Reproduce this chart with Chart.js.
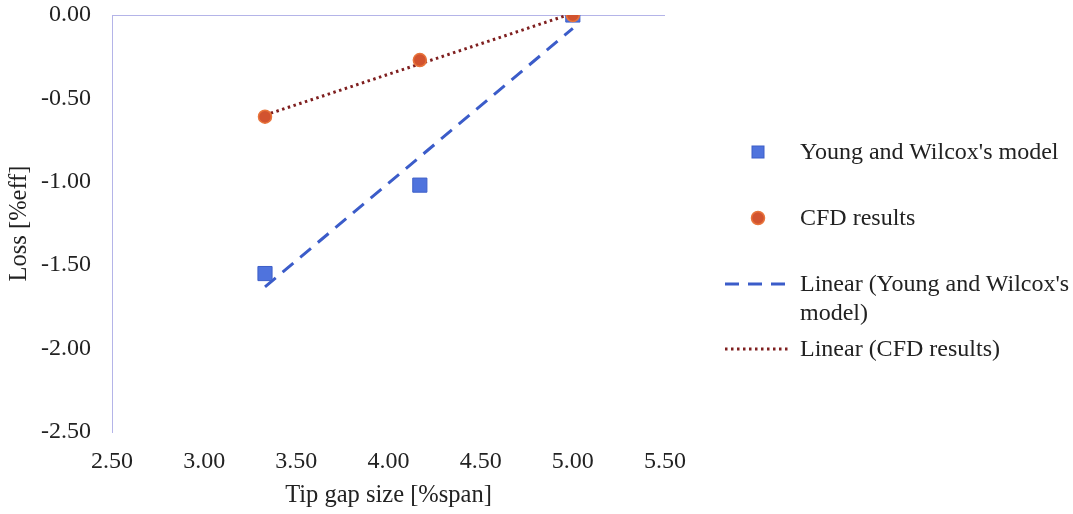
<!DOCTYPE html>
<html>
<head>
<meta charset="utf-8">
<script src="https://cdn.jsdelivr.net/npm/chart.js@4.4.0/dist/chart.umd.min.js"></script>
<style>
html, body { margin: 0; padding: 0; background: #fff; }
#wrap { position: relative; width: 1073px; height: 514px; }
#legend { position: absolute; left: 0; top: 0; width: 1073px; height: 514px; pointer-events: none;
  font-family: "Liberation Serif", "Times New Roman", serif; font-size: 24px; color: #222; }
.txt { position: absolute; left: 800px; line-height: 29px; white-space: nowrap; }
#legend svg { position: absolute; left: 0; top: 0; }
</style>
</head>
<body>
<div id="wrap">
  <canvas id="chart"></canvas>
  <div id="legend">
    <svg width="1073" height="514">
      <rect x="752" y="146" width="12" height="12" fill="#4f73dd" stroke="#3d5fc8" stroke-width="1"/>
      <circle cx="758" cy="218" r="6.5" fill="#d2532f" stroke="#e8743b" stroke-width="1.5"/>
      <line x1="725" y1="284" x2="791" y2="284" stroke="#3b5cc9" stroke-width="3" stroke-dasharray="14,9"/>
      <line x1="725" y1="349" x2="791" y2="349" stroke="#7f1f1f" stroke-width="3" stroke-dasharray="2.5,3.5"/>
    </svg>
    <div class="txt" style="top:137px">Young and Wilcox's model</div>
    <div class="txt" style="top:203px">CFD results</div>
    <div class="txt" style="top:269px">Linear (Young and Wilcox's<br>model)</div>
    <div class="txt" style="top:334px">Linear (CFD results)</div>
  </div>
</div>
<script>
// tip gap size [%span]
var gapSize = [3.33, 4.17, 5.00];
// loss [%eff]
var youngWilcox = [-1.55, -1.02, 0.00];
var cfdResults = [-0.61, -0.27, 0.00];

// linear trend lines, end points
var trendX = [3.33, 5.00];
var youngTrend = [-1.63, -0.08];
var cfdTrend = [-0.60, 0.01];

var xTicks = [2.50, 3.00, 3.50, 4.00, 4.50, 5.00, 5.50];
var yTicks = [-2.50, -2.00, -1.50, -1.00, -0.50, 0.00];

function toPoints(xs, ys) {
    return xs.map(function (x, i) { return { x: x, y: ys[i] }; });
}

var axisColor = '#b4b4e8';
var textColor = '#222';
var serif = '"Liberation Serif", "Times New Roman", serif';

var ctx = document.getElementById('chart').getContext('2d');
var chart = new Chart(ctx, {
    type: 'scatter',
    data: {
        datasets: [{
            label: "CFD results",
            data: toPoints(gapSize, cfdResults),
            pointStyle: 'circle',
            pointRadius: 6.5,
            backgroundColor: '#d2532f',
            borderColor: '#e8743b',
            borderWidth: 1.5,
            order: 1
        }, {
            label: "Young and Wilcox's model",
            data: toPoints(gapSize, youngWilcox),
            pointStyle: 'rect',
            pointRadius: 10,
            backgroundColor: '#4f73dd',
            borderColor: '#3d5fc8',
            borderWidth: 1,
            order: 2
        }, {
            label: "Linear (Young and Wilcox's model)",
            data: toPoints(trendX, youngTrend),
            showLine: true,
            pointRadius: 0,
            borderColor: '#3b5cc9',
            borderWidth: 3,
            borderDash: [14, 9],
            order: 3
        }, {
            label: "Linear (CFD results)",
            data: toPoints(trendX, cfdTrend),
            showLine: true,
            pointRadius: 0,
            borderColor: '#7f1f1f',
            borderWidth: 3,
            borderDash: [2.5, 3.5],
            order: 3
        }]
    },
    options: {
        responsive: true,
        maintainAspectRatio: false,
        animation: false,
        layout: { padding: { left: 0, top: 15, right: 408, bottom: 0 } },
        plugins: {
            legend: { display: false },
            tooltip: { enabled: false }
        },
        scales: {
            x: {
                type: 'linear',
                min: 2.5,
                max: 5.5,
                afterBuildTicks: function (s) { s.ticks = xTicks.map(function (v) { return { value: v }; }); },
                afterFit: function (s) { s.height = 82; s.paddingLeft = 0; s.paddingRight = 0; },
                grid: { display: false, drawTicks: false },
                border: { display: false },
                ticks: {
                    padding: 15,
                    color: textColor,
                    font: { family: serif, size: 24 },
                    callback: function (v) { return Number(v).toFixed(2); }
                },
                title: {
                    display: true,
                    text: 'Tip gap size [%span]',
                    color: textColor,
                    font: { family: serif, size: 24.5 },
                    padding: { top: 0, bottom: 4 }
                }
            },
            y: {
                type: 'linear',
                min: -2.5,
                max: 0,
                afterBuildTicks: function (s) { s.ticks = yTicks.map(function (v) { return { value: v }; }); },
                afterFit: function (s) { s.width = 112; s.paddingTop = 0; s.paddingBottom = 0; },
                grid: {
                    drawTicks: false,
                    lineWidth: 1,
                    color: function (c) { return c.tick && c.tick.value === 0 ? axisColor : 'rgba(0,0,0,0)'; }
                },
                border: { display: true, color: axisColor, width: 1 },
                ticks: {
                    padding: 21,
                    color: textColor,
                    font: { family: serif, size: 24 },
                    callback: function (v) { return Number(v).toFixed(2); }
                },
                title: {
                    display: true,
                    text: 'Loss [%eff]',
                    color: textColor,
                    font: { family: serif, size: 24.5 },
                    padding: { top: 5, bottom: 0 }
                }
            }
        }
    }
});
</script>
</body>
</html>
